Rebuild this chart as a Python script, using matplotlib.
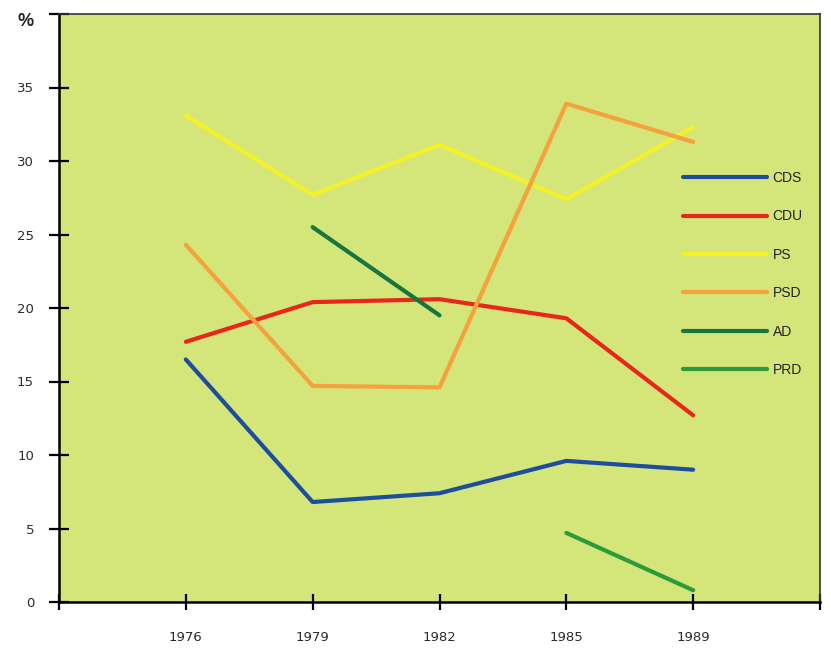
import numpy as np
import matplotlib
matplotlib.use('Agg')
import matplotlib.pyplot as plt

plt.rcParams['font.family'] = ['Liberation Sans', 'DejaVu Sans']

years = ['1976', '1979', '1982', '1985', '1989']
x_pos = [1, 2, 3, 4, 5]

cds = [16.5, 6.8, 7.4, 9.6, 9.0]
cdu = [17.7, 20.4, 20.6, 19.3, 12.7]
ps = [33.1, 27.7, 31.1, 27.4, 32.3]
psd = [24.3, 14.7, 14.6, 33.9, 31.3]
ad = [None, 25.5, 19.5, None, None]
prd = [None, None, None, 4.7, 0.8]

series = [
    ('CDS', cds, '#1d4e9e'),
    ('CDU', cdu, '#e8261c'),
    ('PS', ps, '#f4f227'),
    ('PSD', psd, '#f5a23c'),
    ('AD', ad, '#17753f'),
    ('PRD', prd, '#2b9a3a'),
]

fig = plt.figure(figsize=(8.31, 6.48), dpi=100)
fig.patch.set_facecolor('white')
ax = fig.add_axes([59 / 831, 1 - 602 / 648, (820 - 59) / 831, (602 - 14) / 648])
ax.set_facecolor('#d4e57a')

for name, vals, col in series:
    v = np.array([np.nan if a is None else a for a in vals], dtype=float)
    ax.plot(x_pos, v, color=col, lw=3.0, solid_capstyle='round', label=name)

ax.set_xlim(0, 6)
ax.set_ylim(0, 40)

ax.set_yticks([0, 5, 10, 15, 20, 25, 30, 35, 40])
ax.set_yticklabels(['0', '5', '10', '15', '20', '25', '30', '35', ''])
ax.set_xticks([0, 1, 2, 3, 4, 5, 6])
ax.set_xticklabels([''] + years + [''])

ax.tick_params(axis='y', direction='inout', length=14, width=1.6, pad=11,
               labelsize=9.5, labelcolor='#2a2a2a')
ax.tick_params(axis='x', direction='inout', length=12, width=1.6, pad=15,
               labelsize=9.5, labelcolor='#2a2a2a')
for lab in ax.get_xticklabels() + ax.get_yticklabels():
    lab.set_family('DejaVu Sans')

for side in ['left', 'bottom']:
    ax.spines[side].set_linewidth(1.8)
for side in ['top', 'right']:
    ax.spines[side].set_linewidth(1.2)
    ax.spines[side].set_color('#333333')

ax.text(-0.034, 40 - 0.5, '%', transform=ax.get_yaxis_transform(),
        ha='right', va='center', fontsize=13, fontweight='bold', color='#222222')

leg = ax.legend(loc='upper left', bbox_to_anchor=(683 / 831, 1 - 171 / 648),
                bbox_transform=fig.transFigure, frameon=False, fontsize=10,
                handlelength=6.05, handletextpad=0.4, labelspacing=1.76,
                borderaxespad=0, borderpad=0)
for t in leg.get_texts():
    t.set_color('#222222')

fig.savefig('out.png', dpi=100, facecolor='white')
